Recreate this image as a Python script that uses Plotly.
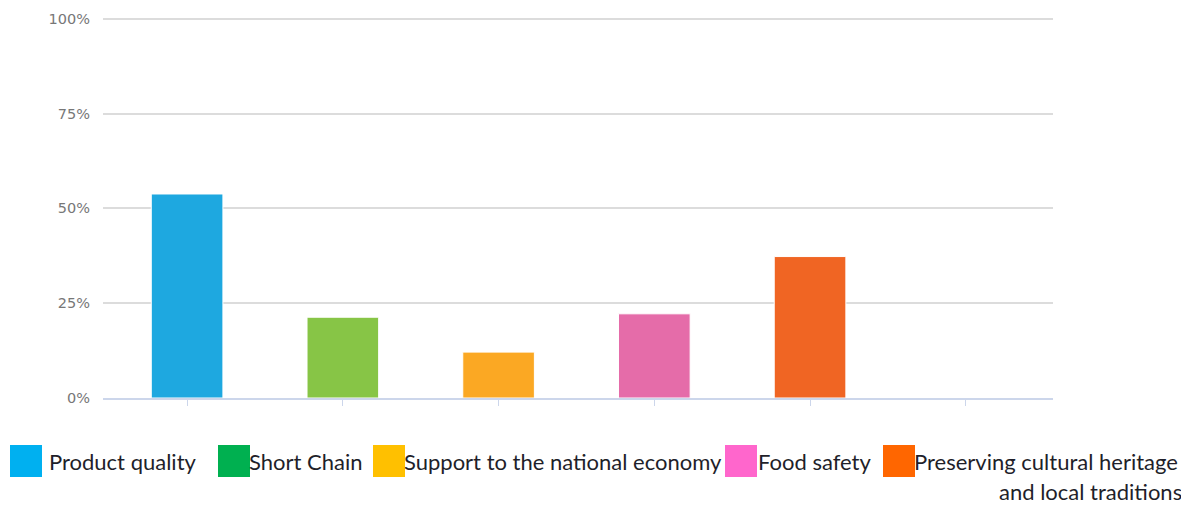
import plotly.graph_objects as go

categories = ["Product quality", "Short Chain", "Support to the national economy",
              "Food safety", "Preserving cultural heritage and local traditions"]
values = [53.8, 21.3, 12.1, 22.2, 37.3]
bar_colors = ["#1EA8E0", "#87C546", "#FBA823", "#E56CA9", "#F06523"]
legend_colors = ["#00B0F0", "#00B050", "#FFC000", "#FF66CC", "#FF6600"]
legend_labels = ["Product quality", "Short Chain", "Support to the national economy",
                 "Food safety", "Preserving cultural heritage<br>and local traditions"]
y_ticks = [0, 25, 50, 75, 100]
y_ticktext = ["0%", "25%", "50%", "75%", "100%"]

W, H = 1181, 498
YMAX = 101
# screen layout: 0% at y=398, 100% at y=19, plot x from 103 to 1053
OFF = 8  # page body offset
unit = (398 - 19) / 100
L, R = 103 - OFF, W - (1053 - OFF)
B = H - (398 - OFF)
T = (19 - OFF) - (YMAX - 100) * unit
PW, PH = W - L - R, H - T - B


def px(xs):
    return (xs - OFF - L) / PW


def py(ys):
    return (H - B - (ys - OFF)) / PH


fig = go.Figure()
fig.add_trace(go.Bar(
    x=list(range(len(categories))), y=values,
    marker=dict(color=bar_colors, line=dict(color="white", width=1)),
    hovertext=categories, showlegend=False,
))

# manual legend
sw_x = [10, 218, 373, 725, 883]
tx_x = [50, 250, 405, 759, 915]
shapes = []
annotations = []
legend_font = dict(family="Lato", size=22, color="#1f1f2a")
for i, lab in enumerate(legend_labels):
    shapes.append(dict(type="rect", xref="paper", yref="paper",
                       x0=px(sw_x[i]), x1=px(sw_x[i] + 32),
                       y0=py(477), y1=py(445),
                       fillcolor=legend_colors[i], line=dict(width=0)))
    lines = lab.split("<br>")
    annotations.append(dict(xref="paper", yref="paper",
                            x=px(tx_x[i] - 2), y=py(461),
                            xanchor="left", yanchor="middle", borderpad=0,
                            text=lines[0], showarrow=False, font=legend_font))
    if len(lines) > 1:
        annotations.append(dict(xref="paper", yref="paper",
                                x=px(1183), y=py(491),
                                xanchor="right", yanchor="middle", borderpad=0,
                                text=lines[1], showarrow=False, font=legend_font))

fig.update_layout(
    width=W, height=H,
    margin=dict(l=L, r=R, t=T, b=B),
    plot_bgcolor="white", paper_bgcolor="white",
    bargap=0.54,
    shapes=shapes, annotations=annotations,
    xaxis=dict(range=[-0.54, 5.56], tick0=0, dtick=1, showticklabels=False,
               ticks="outside", ticklen=6, tickcolor="#ccd6eb", tickwidth=1,
               showline=True, linecolor="#ccd6eb", linewidth=1.5,
               showgrid=False, zeroline=False, automargin=False),
    yaxis=dict(range=[0, YMAX], tickvals=y_ticks, ticktext=y_ticktext,
               showgrid=True, gridcolor="#dcdcdc", gridwidth=1.5,
               zeroline=False, ticks="", ticklabelstandoff=12, automargin=False,
               tickfont=dict(family="DejaVu Sans", size=14.5, color="#777777")),
    showlegend=False,
)
fig.write_html("out.html")
